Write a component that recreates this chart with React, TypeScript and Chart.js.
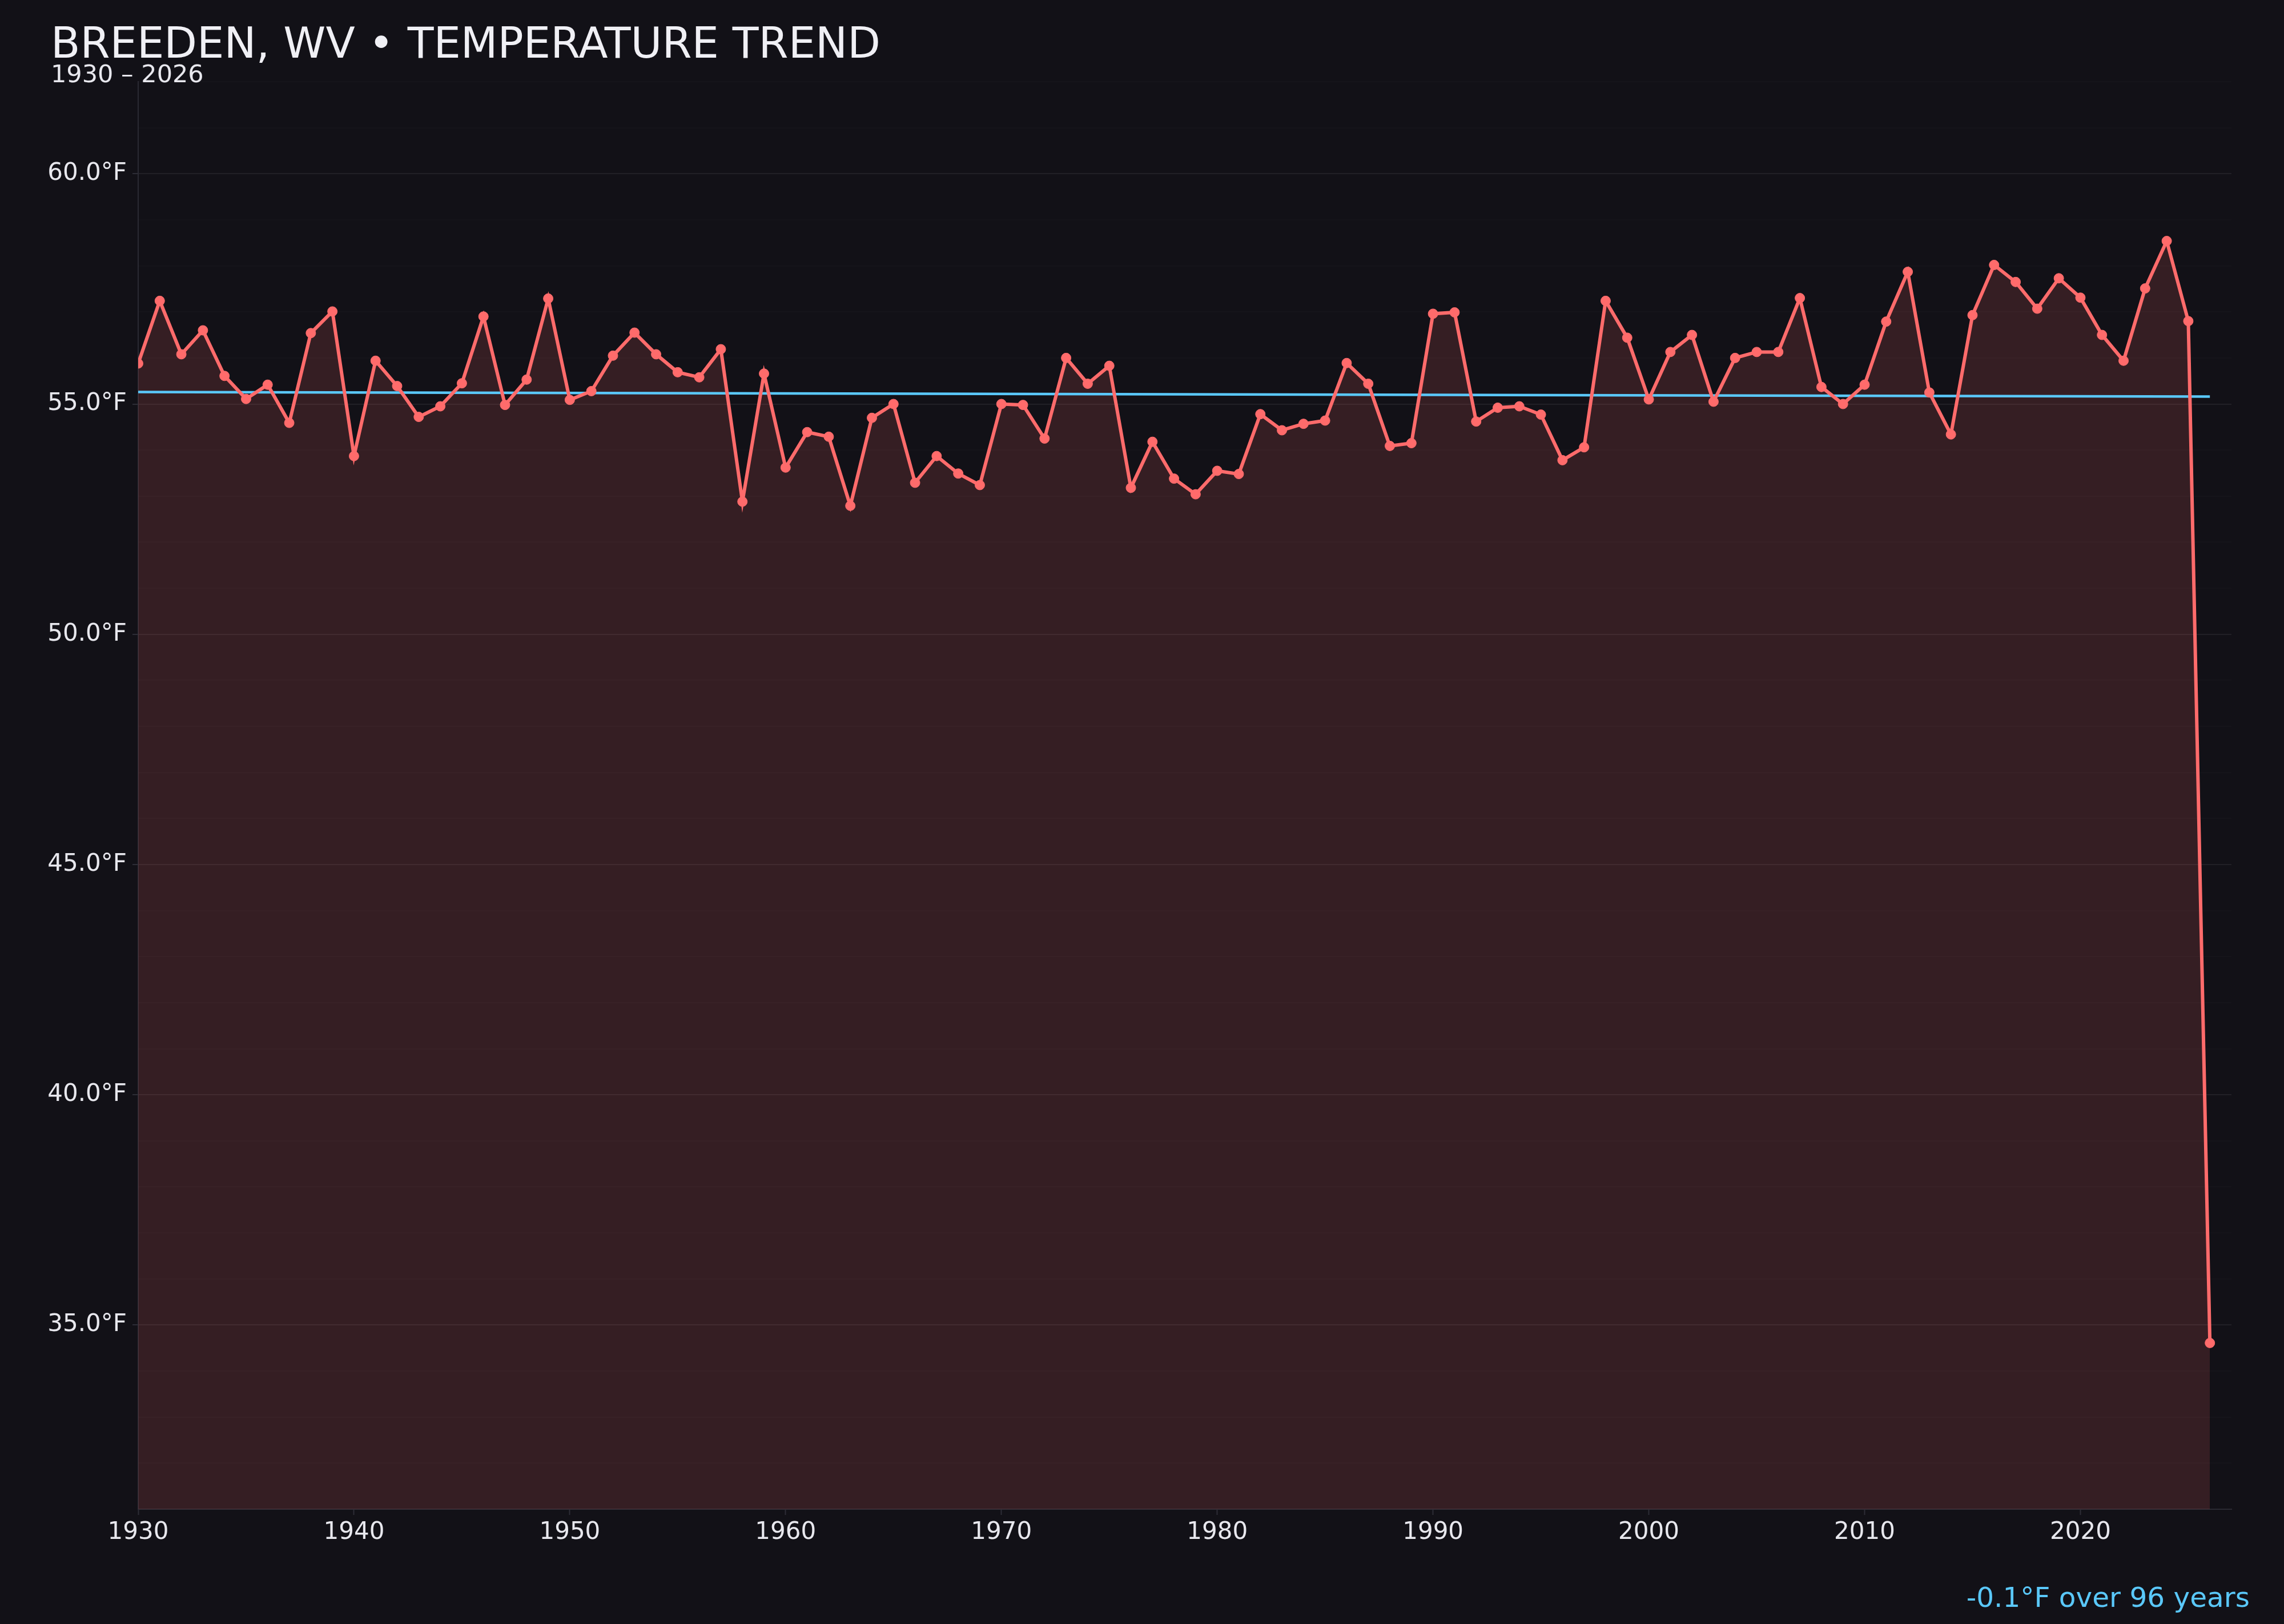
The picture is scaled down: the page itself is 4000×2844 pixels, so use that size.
import React, { useEffect, useRef } from "react";
import { Chart, registerables } from "chart.js";

Chart.register(...registerables);

const titleText = "BREEDEN, WV • TEMPERATURE TREND";
const subtitleText = "1930 – 2026";
const trendText = "-0.1°F over 96 years";

const years = [
  1930, 1931, 1932, 1933, 1934, 1935, 1936, 1937, 1938, 1939,
  1940, 1941, 1942, 1943, 1944, 1945, 1946, 1947, 1948, 1949,
  1950, 1951, 1952, 1953, 1954, 1955, 1956, 1957, 1958, 1959,
  1960, 1961, 1962, 1963, 1964, 1965, 1966, 1967, 1968, 1969,
  1970, 1971, 1972, 1973, 1974, 1975, 1976, 1977, 1978, 1979,
  1980, 1981, 1982, 1983, 1984, 1985, 1986, 1987, 1988, 1989,
  1990, 1991, 1992, 1993, 1994, 1995, 1996, 1997, 1998, 1999,
  2000, 2001, 2002, 2003, 2004, 2005, 2006, 2007, 2008, 2009,
  2010, 2011, 2012, 2013, 2014, 2015, 2016, 2017, 2018, 2019,
  2020, 2021, 2022, 2023, 2024, 2025, 2026,
];

const temps = [
  55.88, 57.24, 56.08, 56.6, 55.61, 55.11, 55.42, 54.59, 56.54, 57.01,
  53.87, 55.94, 55.39, 54.72, 54.95, 55.45, 56.9, 54.98, 55.53, 57.29,
  55.09, 55.28, 56.05, 56.55, 56.08, 55.69, 55.58, 56.19, 52.88, 55.66,
  53.62, 54.39, 54.29, 52.79, 54.7, 55.0, 53.29, 53.87, 53.49, 53.24,
  55.0, 54.98, 54.25, 56.0, 55.44, 55.83, 53.18, 54.18, 53.38, 53.04,
  53.55, 53.48, 54.78, 54.43, 54.57, 54.64, 55.89, 55.44, 54.09, 54.15,
  56.96, 56.99, 54.62, 54.92, 54.95, 54.77, 53.78, 54.06, 57.24, 56.44,
  55.1, 56.13, 56.5, 55.05, 56.0, 56.13, 56.13, 57.3, 55.37, 55.0,
  55.42, 56.79, 57.87, 55.25, 54.34, 56.93, 58.02, 57.65, 57.07, 57.73,
  57.31, 56.5, 55.94, 57.51, 58.54, 56.8, 34.61,
];

const trendYears = [1930, 2026];
const trendValues = [55.26, 55.16];

const FONT = "'DejaVu Sans', sans-serif";

export default function App() {
  const canvasRef = useRef<HTMLCanvasElement | null>(null);

  useEffect(() => {
    const canvas = canvasRef.current;
    if (!canvas) return;
    const chart = new Chart(canvas, {
      type: "line",
      data: {
        datasets: [
          {
            label: "Temperature",
            data: years.map((y, i) => ({ x: y, y: temps[i] })),
            borderColor: "#ff6b6b",
            backgroundColor: "rgba(255,107,107,0.15)",
            borderWidth: 6,
            pointRadius: 8.5,
            pointBorderWidth: 1,
            pointBackgroundColor: "#ff6b6b",
            pointBorderColor: "#ff6b6b",
            tension: 0,
            fill: "start",
          },
          {
            label: "Trend",
            data: trendYears.map((y, i) => ({ x: y, y: trendValues[i] })),
            borderColor: "#5ac8fa",
            borderWidth: 4.5,
            pointRadius: 0,
            fill: false,
            tension: 0,
          },
        ],
      },
      options: {
        animation: false,
        responsive: false,
        devicePixelRatio: 1,
        layout: { padding: { left: 0, top: 143, right: 92, bottom: 101 } },
        plugins: {
          legend: { display: false },
          title: { display: false },
          tooltip: { enabled: false },
          filler: { drawTime: "beforeDatasetsDraw" },
        },
        scales: {
          x: {
            type: "linear",
            min: 1930,
            max: 2027,
            afterFit: (s: any) => {
              s.height = 100;
            },
            border: { display: true, color: "#2a2a33", width: 2 },
            grid: {
              display: true,
              drawOnChartArea: false,
              drawTicks: true,
              tickLength: 10,
              tickColor: "#2d2d36",
              tickWidth: 2,
            },
            ticks: {
              stepSize: 10,
              includeBounds: false,
              autoSkip: false,
              maxRotation: 0,
              padding: 6,
              color: "#e8e8ee",
              font: { family: FONT, size: 42 },
              callback: (v: any) => String(v),
            },
          },
          y: {
            type: "linear",
            min: 31,
            max: 62,
            afterFit: (s: any) => {
              s.width = 242;
            },
            border: { display: true, color: "#2a2a33", width: 2 },
            grid: {
              display: true,
              drawOnChartArea: true,
              drawTicks: true,
              tickLength: 10,
              lineWidth: 2,
              color: (ctx: any) =>
                ctx.tick && Math.round(ctx.tick.value) % 5 === 0
                  ? "rgba(255,255,255,0.065)"
                  : "rgba(255,255,255,0.014)",
              tickColor: (ctx: any) =>
                ctx.tick && Math.round(ctx.tick.value) % 5 === 0
                  ? "#2d2d36"
                  : "rgba(0,0,0,0)",
              tickWidth: 2,
            },
            ticks: {
              stepSize: 1,
              autoSkip: false,
              padding: 10,
              color: "#e8e8ee",
              font: { family: FONT, size: 42 },
              callback: (v: any) =>
                Math.round(v) % 5 === 0 ? Number(v).toFixed(1) + "°F" : "",
            },
          },
        },
      },
    });
    return () => chart.destroy();
  }, []);

  return (
    <div
      style={{
        position: "absolute",
        left: 0,
        top: 0,
        width: 4000,
        height: 2844,
        background: "#121117",
        overflow: "hidden",
        fontFamily: FONT,
      }}
    >
      <canvas
        ref={canvasRef}
        width={4000}
        height={2844}
        style={{ position: "absolute", left: 0, top: 0, width: 4000, height: 2844 }}
      />
      <div
        style={{
          position: "absolute",
          left: 89,
          top: 38,
          fontSize: 75,
          lineHeight: 1,
          color: "#f0f0f5",
          whiteSpace: "nowrap",
        }}
      >
        {titleText}
      </div>
      <div
        style={{
          position: "absolute",
          left: 89,
          top: 108,
          fontSize: 43,
          lineHeight: 1,
          color: "#e8e8ee",
          whiteSpace: "nowrap",
        }}
      >
        {subtitleText}
      </div>
      <div
        style={{
          position: "absolute",
          right: 60,
          top: 2773,
          fontSize: 48.5,
          lineHeight: 1,
          color: "#5ac8fa",
          whiteSpace: "nowrap",
        }}
      >
        {trendText}
      </div>
    </div>
  );
}
